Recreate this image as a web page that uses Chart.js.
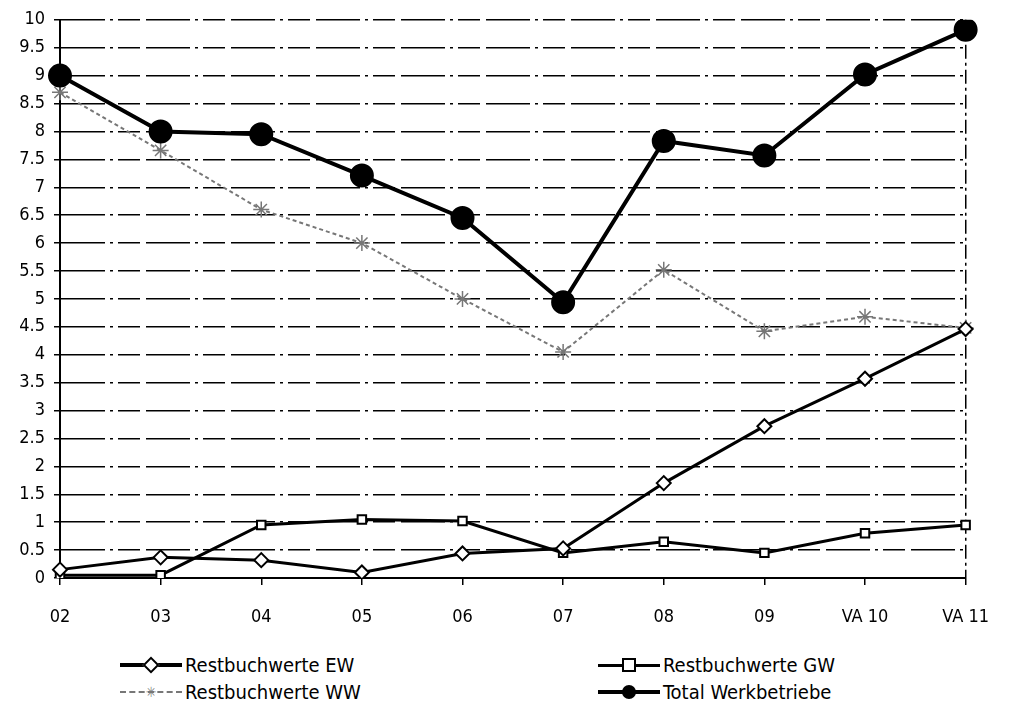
<!DOCTYPE html>
<html>
<head>
<meta charset="utf-8">
<script src="https://cdn.jsdelivr.net/npm/chart.js@4.4.1/dist/chart.umd.min.js"></script>
<style>
  body { margin: 0; background: #fff; width: 1011px; height: 709px; overflow: hidden; position: relative; }
  #wrap { position: absolute; left: 0; top: 0; width: 1011px; height: 640px; }
  .legend { position: absolute; font-family: "DejaVu Sans Condensed", "DejaVu Sans", sans-serif; font-size: 20px; color: #000; }
  .item { position: absolute; display: flex; align-items: center; white-space: nowrap; }
  .sample { position: relative; width: 62px; height: 14px; margin-right: 3px; }
  .sample .ln { position: absolute; left: 0; right: 0; top: 50%; }
  .sample .mk { position: absolute; left: 50%; top: 50%; transform: translate(-50%, -50%); }
</style>
</head>
<body>
<div id="wrap"><canvas id="chart" width="1011" height="640"></canvas></div>
<div class="legend">
  <div class="item" style="left:120px; top:653px;">
    <span class="sample"><span class="ln" style="border-top:4px solid #000; margin-top:-2px;"></span>
      <span class="mk" style="width:8px;height:8px;background:#fff;border:2px solid #000;transform:translate(-50%,-50%) rotate(45deg);"></span></span>
    Restbuchwerte EW
  </div>
  <div class="item" style="left:598px; top:653px;">
    <span class="sample"><span class="ln" style="border-top:3px solid #000; margin-top:-1px;"></span>
      <span class="mk" style="width:10px;height:10px;background:#fff;border:2px solid #000;"></span></span>
    Restbuchwerte GW
  </div>
  <div class="item" style="left:120px; top:680px;">
    <span class="sample"><span class="ln" style="border-top:2px dashed #777; margin-top:-1px;"></span>
      <span class="mk" style="font-size:14px;color:#777;line-height:14px;">&#10035;</span></span>
    Restbuchwerte WW
  </div>
  <div class="item" style="left:598px; top:680px;">
    <span class="sample"><span class="ln" style="border-top:4px solid #000; margin-top:-2px;"></span>
      <span class="mk" style="width:14px;height:14px;border-radius:50%;background:#000;"></span></span>
    Total Werkbetriebe
  </div>
</div>
<script>
// categories and values
const years = ["02", "03", "04", "05", "06", "07", "08", "09", "VA 10", "VA 11"];
const restEW = [0.15, 0.37, 0.32, 0.1, 0.44, 0.53, 1.7, 2.72, 3.57, 4.46];
const restGW = [0.05, 0.05, 0.95, 1.05, 1.02, 0.45, 0.65, 0.45, 0.8, 0.95];
const restWW = [8.7, 7.66, 6.6, 6.0, 5.0, 4.05, 5.52, 4.42, 4.68, 4.48];
const totalWB = [9.0, 8.0, 7.95, 7.21, 6.45, 4.94, 7.83, 7.57, 9.02, 9.82];
const yTicks = [0, 0.5, 1, 1.5, 2, 2.5, 3, 3.5, 4, 4.5, 5, 5.5, 6, 6.5, 7, 7.5, 8, 8.5, 9, 9.5, 10];

const tickFont = { family: "'DejaVu Sans Condensed', 'DejaVu Sans', sans-serif", size: 18 };

const ctx = document.getElementById("chart").getContext("2d");

new Chart(ctx, {
  type: "line",
  data: {
    labels: years,
    datasets: [
      {
        label: "Restbuchwerte EW",
        data: restEW,
        borderColor: "#000",
        borderWidth: 3,
        pointStyle: "rectRot",
        pointRadius: 7,
        pointBackgroundColor: "#fff",
        pointBorderColor: "#000",
        pointBorderWidth: 2,
        order: 2
      },
      {
        label: "Restbuchwerte GW",
        data: restGW,
        borderColor: "#000",
        borderWidth: 3,
        pointStyle: "rect",
        pointRadius: 6,
        pointBackgroundColor: "#fff",
        pointBorderColor: "#000",
        pointBorderWidth: 2,
        order: 3
      },
      {
        label: "Restbuchwerte WW",
        data: restWW,
        borderColor: "#777",
        borderWidth: 2,
        borderDash: [4, 3],
        pointStyle: "star",
        pointRadius: 8,
        pointBorderColor: "#777",
        pointBorderWidth: 1.5,
        order: 4
      },
      {
        label: "Total Werkbetriebe",
        data: totalWB,
        borderColor: "#000",
        borderWidth: 4,
        pointStyle: "circle",
        pointRadius: 10,
        pointBackgroundColor: "#000",
        pointBorderColor: "#000",
        order: 1
      }
    ]
  },
  options: {
    responsive: false,
    animation: false,
    layout: { padding: { top: 15, right: 34, left: 0, bottom: 0 } },
    plugins: {
      legend: { display: false },
      tooltip: { enabled: false }
    },
    scales: {
      x: {
        offset: false,
        afterFit: scale => { scale.height = 62; },
        grid: {
          drawOnChartArea: true,
          color: c => (c.index === years.length - 1 ? "#000" : "rgba(0,0,0,0)"),
          tickColor: "#000",
          tickLength: 7,
          lineWidth: 1.5
        },
        border: { color: "#000", width: 2, dash: [14, 4, 3, 4] },
        ticks: { color: "#000", font: tickFont, padding: 22, maxRotation: 0 }
      },
      y: {
        min: 0,
        max: 10,
        afterFit: scale => { scale.width = 60; },
        afterBuildTicks: scale => { scale.ticks = yTicks.map(v => ({ value: v })); },
        grid: {
          color: "#000",
          tickColor: "#000",
          lineWidth: 1.5,
          tickLength: 6
        },
        border: { color: "#000", width: 2, dash: [44, 5, 3, 5, 22, 6] },
        ticks: { color: "#000", font: tickFont, padding: 9, callback: v => String(v) }
      }
    }
  }
});
</script>
</body>
</html>
